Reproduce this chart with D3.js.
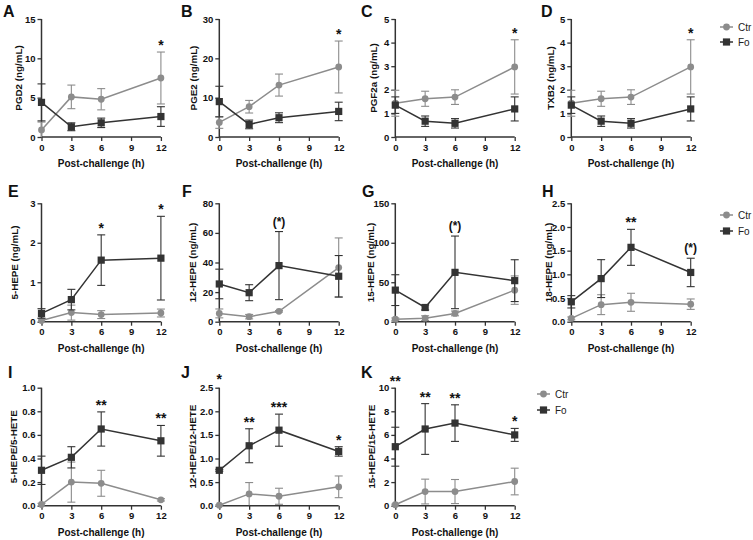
<!DOCTYPE html>
<html><head><meta charset="utf-8">
<script src="https://cdn.jsdelivr.net/npm/d3@7"></script>
<style>
html,body{margin:0;padding:0;background:#fff;}
svg{display:block;font-family:"Liberation Sans",Arial,sans-serif;}
</style></head>
<body><svg id="c" width="753" height="540"></svg>
<script>
// ---------- DATA ----------
const times = [0, 3, 6, 12];
const xTicks = [0, 3, 6, 9, 12];
const xTitle = "Post-challenge (h)";
const seriesNames = ["Ctr", "Fo"];
const panelLetters = ["A","B","C","D","E","F","G","H","I","J","K"];
const yLabels = ["PGD2 (ng/mL)","PGE2 (ng/mL)","PGF2a (ng/mL)","TXB2 (ng/mL)",
  "5-HEPE (ng/mL)","12-HEPE (ng/mL)","15-HEPE (ng/mL)","18-HEPE (ng/mL)",
  "5-HEPE/5-HETE","12-HEPE/12-HETE","15-HEPE/15-HETE"];
const yMax = [15, 30, 5, 5, 3, 80, 150, 2.5, 1.0, 2.5, 10];
const yTicks = [[0,5,10,15],[0,10,20,30],[0,1,2,3,4,5],[0,1,2,3,4,5],
  [0,1,2,3],[0,20,40,60,80],[0,50,100,150],[0,0.5,1,1.5,2,2.5],
  [0,0.2,0.4,0.6,0.8,1.0],[0,0.5,1,1.5,2,2.5],[0,2,4,6,8,10]];
const yTickLabels = [["0","5","10","15"],["0","10","20","30"],["0","1","2","3","4","5"],["0","1","2","3","4","5"],
  ["0","1","2","3"],["0","20","40","60","80"],["0","50","100","150"],["0.0","0.5","1.0","1.5","2.0","2.5"],
  ["0.0","0.2","0.4","0.6","0.8","1.0"],["0.0","0.5","1.0","1.5","2.0","2.5"],["0","2","4","6","8","10"]];
const ctrMean = [[0.9,5.1,4.8,7.5],[3.7,7.7,13.2,17.8],[1.43,1.62,1.69,2.97],[1.43,1.62,1.69,2.97],
  [0.03,0.23,0.18,0.22],[5.6,3.4,7.0,36.6],[3.2,4.5,10.5,40],[0.07,0.36,0.41,0.37],
  [0.01,0.2,0.19,0.05],[0.01,0.25,0.2,0.4],[0.08,1.2,1.2,2.05]];
const ctrErr = [[1.0,1.5,1.35,3.3],[1.5,1.6,2.8,6.6],[0.55,0.32,0.31,1.15],[0.55,0.32,0.31,1.15],
  [0.05,0.19,0.1,0.1],[3.0,1.5,0.5,20],[1.5,3,3,18],[0.03,0.21,0.19,0.11],
  [0.01,0.17,0.11,0.01],[0.01,0.24,0.17,0.23],[0.05,1.05,1.02,1.13]];
const foMean = [[4.4,1.3,1.8,2.6],[9.0,3.2,4.9,6.5],[1.35,0.67,0.58,1.19],[1.35,0.67,0.58,1.19],
  [0.21,0.56,1.56,1.61],[25.5,19.6,37.9,30.7],[40,18,62.5,52],[0.42,0.91,1.57,1.04],
  [0.3,0.41,0.65,0.55],[0.75,1.27,1.6,1.15],[5.0,6.5,7.0,6.0]];
const foErr = [[2.35,0.5,0.6,1.25],[3.9,1.1,1.25,2.35],[0.35,0.22,0.2,0.51],[0.35,0.22,0.2,0.51],
  [0.12,0.26,0.64,1.06],[10,5.4,23,14],[19.5,3.2,46,26.5],[0.13,0.4,0.38,0.3],
  [0.12,0.09,0.145,0.13],[0.02,0.36,0.34,0.1],[1.65,2.15,1.55,0.55]];
// significance marks: time, text, optional anchor value (data units)
const stars = [
  [{x:12,t:"*"}],[{x:12,t:"*"}],[{x:12,t:"*"}],[{x:12,t:"*"}],
  [{x:6,t:"*"},{x:12,t:"*"}],[{x:6,t:"(*)"}],[{x:6,t:"(*)"}],[{x:6,t:"**"},{x:12,t:"(*)"}],
  [{x:6,t:"**"},{x:12,t:"**"}],
  [{x:0,t:"*",at:2.75},{x:3,t:"**"},{x:6,t:"***"},{x:12,t:"*"}],
  [{x:0,t:"**",at:10.8},{x:3,t:"**"},{x:6,t:"**"},{x:12,t:"*"}]
];

// ---------- LAYOUT / STYLE ----------
const colX = [41.5, 219.3, 395.3, 571.3];
const plotW = 119.4;
const rowTop = [19, 203.3, 387.7];
const rowBot = [137, 321.7, 505.7];
const panelRow = [0,0,0,0,1,1,1,1,2,2,2];
const panelCol = [0,1,2,3,0,1,2,3,0,1,2];
const yLabelX = [18, 193.3, 373.3, 550.7, 14.5, 192.7, 370, 548, 13.5, 192.7, 371.7];
const letterPos = [[3,17],[181,17],[361,17],[541,17],[8,197],[182,197],[362,197],[542,197],[8,378],[181,378],[361,378]];
const legends = [{x:720,y:[27,42]},{x:720,y:[215,231]},{x:537,y:[394,410]}];
const CTR = "#8c8c8c", FO = "#333333", AX = "#333333";

const svg = d3.select("#c");

function drawMarker(g, kind, cx, cy) {
  if (kind === 0) g.append("circle").attr("cx",cx).attr("cy",cy).attr("r",3.4).attr("fill",CTR);
  else g.append("rect").attr("x",cx-3.6).attr("y",cy-3.6).attr("width",7.2).attr("height",7.2).attr("fill",FO);
}

panelLetters.forEach((L, i) => {
  const r = panelRow[i], c = panelCol[i];
  const x = d3.scaleLinear().domain([0,12]).range([colX[c], colX[c]+plotW]);
  const y = d3.scaleLinear().domain([0,yMax[i]]).range([rowBot[r], rowTop[r]]);
  const g = svg.append("g");

  // axes
  const yAx = g.append("g").attr("transform",`translate(${colX[c]},0)`)
    .call(d3.axisLeft(y).tickValues(yTicks[i]).tickSize(4).tickPadding(2)
      .tickFormat((d,k)=>yTickLabels[i][k]));
  const xAx = g.append("g").attr("transform",`translate(0,${rowBot[r]})`)
    .call(d3.axisBottom(x).tickValues(xTicks).tickSize(4).tickPadding(3));
  [yAx,xAx].forEach(a=>{
    a.select(".domain").attr("stroke",AX).attr("stroke-width",1.5)
      .attr("d", a===yAx ? `M0,${rowBot[r]}V${rowTop[r]}` : `M${colX[c]},0H${colX[c]+plotW}`);
    a.selectAll(".tick line").attr("stroke",AX).attr("stroke-width",1.3);
    a.selectAll(".tick text").attr("fill","#111").attr("font-size",9.5).attr("font-weight","bold")
      .attr("font-family","Liberation Sans, Arial, sans-serif");
  });

  // axis titles
  g.append("text").attr("x",colX[c]+plotW/2).attr("y",rowBot[r]+30)
    .attr("text-anchor","middle").attr("font-size",10).attr("font-weight","bold").attr("fill","#111")
    .text(xTitle);
  g.append("text").attr("transform",`translate(${yLabelX[i]},${(rowTop[r]+rowBot[r])/2}) rotate(-90)`)
    .attr("text-anchor","middle").attr("dominant-baseline","central")
    .attr("font-size",9.8).attr("font-weight","bold").attr("fill","#111").text(yLabels[i]);

  // panel letter
  g.append("text").attr("x",letterPos[i][0]).attr("y",letterPos[i][1])
    .attr("font-size",16).attr("font-weight","bold").attr("fill","#111").text(L);

  // series
  const series = [{m:ctrMean[i],e:ctrErr[i],col:CTR,k:0},{m:foMean[i],e:foErr[i],col:FO,k:1}];
  series.forEach(s=>{
    const pts = times.map((t,j)=>({t, v:s.m[j], e:s.e[j]}));
    pts.forEach(p=>{
      const top = y(p.v+p.e), bot = y(Math.max(0,p.v-p.e));
      g.append("line").attr("x1",x(p.t)).attr("x2",x(p.t)).attr("y1",top).attr("y2",bot)
        .attr("stroke",s.col).attr("stroke-width",1.1);
      [top, bot].forEach(yy=>{
        if (yy < rowBot[r]-0.5)
          g.append("line").attr("x1",x(p.t)-4).attr("x2",x(p.t)+4).attr("y1",yy).attr("y2",yy)
            .attr("stroke",s.col).attr("stroke-width",1.1);
      });
    });
    g.append("path").datum(pts)
      .attr("d", d3.line().x(p=>x(p.t)).y(p=>y(p.v)))
      .attr("fill","none").attr("stroke",s.col).attr("stroke-width",1.5);
    pts.forEach(p=>drawMarker(g, s.k, x(p.t), y(p.v)));
  });

  // stars
  stars[i].forEach(st=>{
    const j = times.indexOf(st.x);
    let cy;
    if (st.at !== undefined) cy = y(st.at);
    else {
      const topV = Math.max(ctrMean[i][j]+ctrErr[i][j], foMean[i][j]+foErr[i][j]);
      cy = y(topV) - 10;
    }
    const paren = st.t.indexOf("(") >= 0;
    g.append("text").attr("x",x(st.x)).attr("y", cy + (paren ? 4 : 8))
      .attr("text-anchor","middle").attr("font-size",paren?12:14).attr("font-weight","bold")
      .attr("fill","#111").text(st.t);
  });
});

// legends
legends.forEach(lg=>{
  [0,1].forEach(k=>{
    const yy = lg.y[k];
    const col = k===0 ? CTR : FO;
    svg.append("line").attr("x1",lg.x).attr("x2",lg.x+13).attr("y1",yy).attr("y2",yy)
      .attr("stroke",col).attr("stroke-width",1.5);
    drawMarker(svg, k, lg.x+6.5, yy);
    svg.append("text").attr("x",lg.x+18).attr("y",yy).attr("dominant-baseline","central")
      .attr("font-size",10).attr("fill","#222").text(seriesNames[k]);
  });
});
</script></body></html>
